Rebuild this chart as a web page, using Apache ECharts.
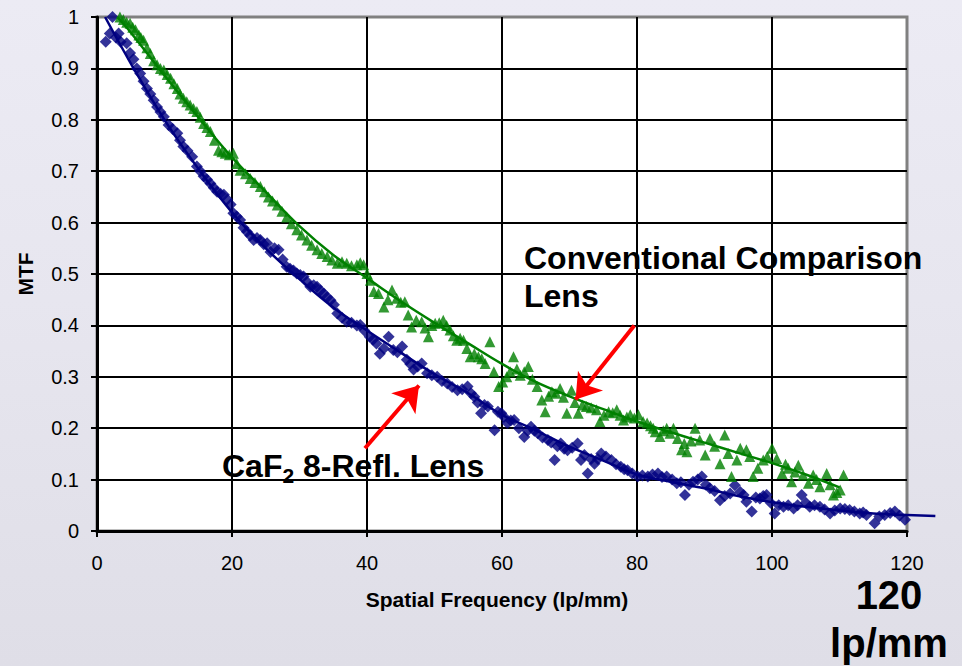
<!DOCTYPE html>
<html>
<head>
<meta charset="utf-8">
<script src="https://cdn.jsdelivr.net/npm/echarts@6/dist/echarts.min.js"></script>
<style>
  html, body { margin: 0; padding: 0; }
  body {
    width: 962px; height: 666px; overflow: hidden;
    background: linear-gradient(180deg, #ecebf4 0%, #e7e6ef 45%, #dfdee7 100%);
  }
  #chart { width: 962px; height: 666px; }
</style>
</head>
<body>
<div id="chart"></div>
<script>
// ---------------- DATA ----------------
const xTicks = [0, 20, 40, 60, 80, 100, 120];
const yTicks = [0, 0.1, 0.2, 0.3, 0.4, 0.5, 0.6, 0.7, 0.8, 0.9, 1];

// CaF2 8-Refl. Lens (blue diamonds): [spatial frequency, MTF]
const caf2Points = [
  [1.3,0.952],[1.9,0.968],[2.3,1.0],[2.8,0.96],[3.2,0.968],[3.5,0.952],[4.4,0.949],[4.9,0.93],[5.4,0.918],[5.9,0.9],
  [6.4,0.89],[6.9,0.875],[7.4,0.861],[7.9,0.85],[8.4,0.838],[8.9,0.825],[9.4,0.815],[9.9,0.806],[10.6,0.79],[11.2,0.782],
  [11.9,0.774],[12.3,0.76],[12.8,0.748],[13.4,0.74],[14.1,0.728],[14.8,0.709],[15.3,0.70],[15.8,0.69],[16.3,0.684],[16.8,0.676],
  [17.3,0.668],[17.8,0.66],[18.3,0.656],[18.8,0.654],[19.3,0.645],[19.8,0.635],[20.2,0.618],[20.7,0.612],[21.2,0.605],[21.7,0.59],
  [22.2,0.582],[22.7,0.575],[23.2,0.566],[23.7,0.57],[24.2,0.566],[24.7,0.558],[25.2,0.56],[25.7,0.543],[26.3,0.55],[26.9,0.547],
  [27.5,0.528],[28.1,0.514],[28.6,0.51],[29.1,0.507],[29.6,0.501],[30.1,0.498],[30.6,0.495],[31.1,0.485],[31.6,0.475],[32.1,0.478],
  [32.6,0.475],[33.1,0.468],[33.6,0.462],[34.1,0.455],[34.6,0.449],[35.1,0.44],[35.6,0.423],[36.3,0.415],[37.0,0.407],[37.7,0.405],
  [38.5,0.4],[39.0,0.401],[39.6,0.39],[40.4,0.378],[40.9,0.372],[41.4,0.365],[41.9,0.345],[42.5,0.355],[43.2,0.378],[43.9,0.352],
  [44.5,0.348],[45.2,0.359],[45.9,0.333],[46.4,0.325],[46.9,0.314],[47.5,0.32],[48.1,0.326],[48.9,0.307],[49.6,0.303],[50.4,0.300],
  [51.1,0.292],[51.9,0.287],[52.6,0.28],[53.4,0.274],[54.1,0.276],[54.9,0.281],[55.4,0.268],[55.9,0.261],[56.4,0.25],[56.9,0.229],
  [57.4,0.245],[57.9,0.242],[58.9,0.196],[59.4,0.232],[59.9,0.229],[60.3,0.222],[60.8,0.210],[61.3,0.215],[61.8,0.216],[62.5,0.2],
  [63.3,0.183],[63.8,0.195],[64.3,0.203],[64.8,0.195],[65.3,0.190],[66.0,0.182],[66.8,0.177],[67.3,0.172],[67.8,0.138],[68.2,0.165],
  [68.7,0.170],[69.2,0.16],[69.7,0.157],[70.4,0.162],[71.2,0.170],[71.7,0.138],[72.2,0.148],[72.7,0.112],[73.2,0.14],[73.7,0.131],
  [74.2,0.14],[74.7,0.151],[75.4,0.145],[76.2,0.138],[76.9,0.13],[77.6,0.125],[78.1,0.12],[78.6,0.118],[79.3,0.112],[80.1,0.106],
  [80.8,0.108],[81.6,0.106],[82.3,0.11],[83.1,0.112],[83.7,0.105],[84.4,0.106],[85.2,0.1],[85.9,0.093],[86.5,0.095],[87.1,0.070],
  [87.7,0.09],[88.3,0.096],[89.0,0.1],[89.6,0.106],[90.2,0.09],[90.8,0.083],[91.5,0.078],[92.3,0.060],[93.0,0.068],[93.8,0.073],
  [94.5,0.089],[95.3,0.076],[95.8,0.07],[96.2,0.057],[97.0,0.038],[97.6,0.065],[98.2,0.063],[98.7,0.068],[99.2,0.070],[99.8,0.055],
  [100.4,0.034],[101.0,0.05],[101.7,0.047],[102.4,0.05],[103.2,0.044],[103.8,0.05],[104.4,0.070],[105.0,0.055],[105.6,0.047],[106.3,0.05],
  [107.1,0.047],[107.8,0.042],[108.6,0.034],[109.3,0.04],[110.1,0.044],[110.8,0.043],[111.5,0.041],[112.2,0.038],[113.0,0.034],[113.5,0.036],
  [114.0,0.031],[115.2,0.015],[115.9,0.028],[116.7,0.031],[117.5,0.035],[118.2,0.038],[118.9,0.03],[119.7,0.022]
];

// Conventional Comparison Lens (green triangles): [spatial frequency, MTF]
const convPoints = [
  [3.4,1.0],[3.9,0.995],[4.4,0.99],[4.9,0.988],[5.3,0.98],[5.7,0.975],[6.2,0.965],[6.5,0.96],[6.9,0.955],[7.4,0.94],
  [7.9,0.929],[8.4,0.915],[8.9,0.907],[9.4,0.9],[9.9,0.897],[10.4,0.888],[10.9,0.881],[11.4,0.87],[11.9,0.861],[12.3,0.85],
  [12.8,0.842],[13.3,0.835],[13.8,0.829],[14.3,0.822],[14.8,0.816],[15.3,0.805],[15.8,0.793],[16.3,0.785],[16.8,0.777],[17.4,0.76],
  [18.0,0.741],[18.5,0.738],[19.0,0.735],[19.6,0.732],[20.2,0.735],[20.7,0.715],[21.2,0.702],[22.0,0.695],[22.7,0.686],[23.4,0.678],
  [24.2,0.670],[24.8,0.66],[25.4,0.650],[26.0,0.642],[26.7,0.634],[27.4,0.622],[28.1,0.611],[28.8,0.598],[29.6,0.586],[30.3,0.576],
  [31.1,0.566],[31.8,0.556],[32.6,0.547],[33.3,0.54],[34.1,0.534],[34.8,0.527],[35.6,0.521],[36.3,0.524],[37.0,0.521],[37.7,0.516],
  [38.5,0.518],[39.0,0.522],[39.5,0.518],[40.0,0.501],[40.5,0.488],[41.0,0.466],[41.7,0.462],[42.5,0.436],[43.1,0.45],[43.7,0.469],
  [44.4,0.453],[45.0,0.445],[45.6,0.446],[46.1,0.42],[46.6,0.397],[47.3,0.41],[48.1,0.407],[48.6,0.395],[49.1,0.378],[49.6,0.4],
  [50.1,0.404],[50.7,0.405],[51.3,0.410],[51.8,0.4],[52.3,0.391],[52.8,0.38],[53.3,0.371],[53.8,0.375],[54.3,0.371],[54.8,0.355],
  [55.3,0.339],[55.9,0.345],[56.5,0.339],[57.0,0.335],[57.5,0.326],[58.2,0.368],[58.8,0.31],[59.5,0.281],[60.1,0.29],[60.7,0.300],
  [61.2,0.31],[61.7,0.339],[62.2,0.315],[62.7,0.303],[63.3,0.31],[63.9,0.320],[64.5,0.295],[65.2,0.281],[65.9,0.255],[66.4,0.232],
  [66.9,0.262],[67.4,0.271],[68.0,0.268],[68.6,0.277],[69.1,0.26],[69.6,0.229],[70.3,0.274],[70.8,0.25],[71.3,0.229],[71.9,0.245],
  [72.5,0.242],[73.2,0.24],[74.0,0.236],[74.5,0.213],[75.1,0.225],[75.8,0.232],[76.4,0.23],[77.0,0.236],[77.5,0.225],[78.0,0.216],
  [78.5,0.222],[79.0,0.226],[79.6,0.22],[80.2,0.226],[80.9,0.213],[81.5,0.210],[82.0,0.205],[82.4,0.200],[82.7,0.193],[83.4,0.184],
  [83.9,0.195],[84.4,0.200],[84.9,0.19],[85.4,0.200],[86.0,0.18],[86.6,0.158],[87.0,0.17],[87.4,0.154],[88.0,0.175],[88.6,0.200],
  [89.3,0.177],[90.1,0.148],[90.8,0.180],[91.5,0.165],[92.3,0.131],[93.0,0.187],[93.5,0.151],[94.0,0.106],[94.8,0.138],[95.3,0.161],
  [96.2,0.158],[96.7,0.145],[97.2,0.106],[97.9,0.122],[98.7,0.138],[99.3,0.145],[100.0,0.161],[100.7,0.141],[101.5,0.112],[102.0,0.13],
  [102.4,0.122],[102.9,0.096],[103.4,0.115],[103.9,0.128],[104.6,0.109],[105.4,0.093],[106.1,0.109],[106.6,0.1],[107.1,0.086],[108.1,0.112],
  [108.6,0.09],[109.1,0.070],[109.6,0.075],[110.1,0.080],[110.6,0.109]
];

// Trend lines
const caf2Trend = [
  [1.2,1.0],[5,0.91],[10,0.80],[15,0.705],[20,0.62],[25,0.55],[30,0.49],[35,0.435],[40,0.39],[45,0.347],
  [50,0.305],[55,0.268],[60,0.226],[65,0.196],[70,0.164],[75,0.137],[80,0.11],[85,0.096],[90,0.083],[95,0.068],
  [100,0.056],[105,0.047],[110,0.04],[115,0.034],[120,0.031]
];
// part of the CaF2 trend line that runs past the right edge of the plot
const caf2TrendTail = [[120,0.031],[124.2,0.029]];
const convTrend = [
  [3,1.0],[5,0.97],[10,0.886],[15,0.805],[20,0.727],[25,0.66],[30,0.593],[35,0.537],[40,0.492],[45,0.447],
  [50,0.405],[55,0.365],[60,0.325],[65,0.29],[70,0.262],[75,0.237],[80,0.213],[85,0.192],[90,0.172],[95,0.152],
  [100,0.132],[105,0.11],[110,0.085]
];

// Annotation arrows (tail -> tip), in data coordinates
const arrowConv = [[79.6, 0.40], [70.9, 0.256]];
const arrowCaf2 = [[39.7, 0.161], [47.7, 0.283]];

// ---------------- CHART ----------------
const FONT = '"Liberation Sans", Arial, Helvetica, sans-serif';
const chart = echarts.init(document.getElementById('chart'), null, { renderer: 'svg' });

const option = {
  animation: false,
  backgroundColor: 'transparent',
  textStyle: { fontFamily: FONT },
  grid: {
    left: 97, right: 55, top: 17, bottom: 135,
    show: true, backgroundColor: '#ffffff',
    borderColor: '#808080', borderWidth: 3
  },
  xAxis: {
    type: 'value', min: xTicks[0], max: xTicks[xTicks.length - 1], interval: 20,
    name: 'Spatial Frequency (lp/mm)', nameLocation: 'middle', nameGap: 58,
    nameTextStyle: { fontFamily: FONT, fontSize: 21, fontWeight: 'bold', color: '#000', padding: [0, 10, 0, 0] },
    axisLine: { show: true, onZero: false, lineStyle: { color: '#000', width: 3 } },
    axisTick: { show: true, inside: false, length: 6, lineStyle: { color: '#000', width: 2 } },
    axisLabel: { show: true, margin: 22, fontFamily: FONT, fontSize: 20, color: '#000' },
    splitLine: { show: true, showMaxLine: false, lineStyle: { color: '#000', width: 2 } }
  },
  yAxis: {
    type: 'value', min: yTicks[0], max: yTicks[yTicks.length - 1], interval: 0.1,
    name: 'MTF', nameLocation: 'middle', nameGap: 61, nameRotate: 90,
    nameTextStyle: { fontFamily: FONT, fontSize: 21, fontWeight: 'bold', color: '#000' },
    axisLine: { show: true, onZero: false, lineStyle: { color: '#000', width: 3 } },
    axisTick: { show: true, inside: false, length: 6, lineStyle: { color: '#000', width: 2 } },
    axisLabel: {
      show: true, margin: 18, fontFamily: FONT, fontSize: 20, color: '#000',
      formatter: v => String(Math.round(v * 10) / 10)
    },
    splitLine: { show: true, showMaxLine: false, lineStyle: { color: '#000', width: 2 } }
  },
  series: [
    {
      name: 'CaF2 8-Refl. Lens', type: 'scatter', data: caf2Points,
      symbol: 'diamond', symbolSize: 12, z: 3, clip: false,
      itemStyle: { color: '#000080' }, silent: true
    },
    {
      name: 'Conventional Comparison Lens', type: 'scatter', data: convPoints,
      symbol: 'triangle', symbolSize: 11, z: 3, clip: false,
      itemStyle: { color: '#008000' }, silent: true
    },
    {
      name: 'CaF2 trend', type: 'line', data: caf2Trend, smooth: 0.4,
      showSymbol: false, symbol: 'none', clip: false, z: 4, silent: true,
      lineStyle: { color: '#000080', width: 2.5 }
    },
    {
      name: 'Conventional trend', type: 'line', data: convTrend, smooth: 0.4,
      showSymbol: false, symbol: 'none', clip: false, z: 4, silent: true,
      lineStyle: { color: '#008000', width: 2.5 },
      markLine: {
        silent: true, symbol: ['none', 'arrow'], symbolSize: 24, precision: 3,
        label: { show: false },
        lineStyle: { color: '#ff0000', width: 4, type: 'solid' },
        emphasis: { disabled: true },
        data: [
          [{ coord: arrowConv[0] }, { coord: arrowConv[1] }],
          [{ coord: arrowCaf2[0] }, { coord: arrowCaf2[1] }]
        ]
      }
    }
  ],
  graphic: [
    {
      id: 'convLabel', type: 'text', x: 524, y: 239, z: 10, silent: true,
      style: {
        text: 'Conventional Comparison\nLens',
        font: 'bold 32px ' + FONT, fill: '#000', lineHeight: 38,
        align: 'left', verticalAlign: 'top'
      }
    },
    {
      id: 'caf2Label', type: 'text', x: 222, y: 446, z: 10, silent: true,
      style: {
        text: '{a|CaF}{s|2}{a| 8-Refl. Lens}',
        fill: '#000', align: 'left', verticalAlign: 'top',
        rich: {
          a: { fontFamily: FONT, fontSize: 32, fontWeight: 'bold', lineHeight: 40, fill: '#000', verticalAlign: 'middle' },
          s: { fontFamily: FONT, fontSize: 21, fontWeight: 'bold', lineHeight: 22, fill: '#000', verticalAlign: 'bottom' }
        }
      }
    },
    {
      id: 'resLabel', type: 'text', x: 889, y: 578, z: 10, silent: true,
      style: {
        text: '{n|120}\n{u|lp/mm}',
        fill: '#000', align: 'center', verticalAlign: 'top',
        rich: {
          n: { fontFamily: FONT, fontSize: 40, fontWeight: 'bold', lineHeight: 34, fill: '#000', align: 'center' },
          u: { fontFamily: FONT, fontSize: 40, fontWeight: 'bold', lineHeight: 62, fill: '#000', align: 'center' }
        }
      }
    }
  ]
};
chart.setOption(option);

// The CaF2 trend line continues past x = 120; draw that tail through the chart's own scale.
const tailPts = caf2TrendTail.map(p => chart.convertToPixel({ gridIndex: 0 }, p));
chart.setOption({
  graphic: [{
    id: 'caf2TrendTail', type: 'polyline', z: 4, silent: true,
    shape: { points: tailPts },
    style: { stroke: '#000080', lineWidth: 2.5, fill: null }
  }]
});
</script>
</body>
</html>
